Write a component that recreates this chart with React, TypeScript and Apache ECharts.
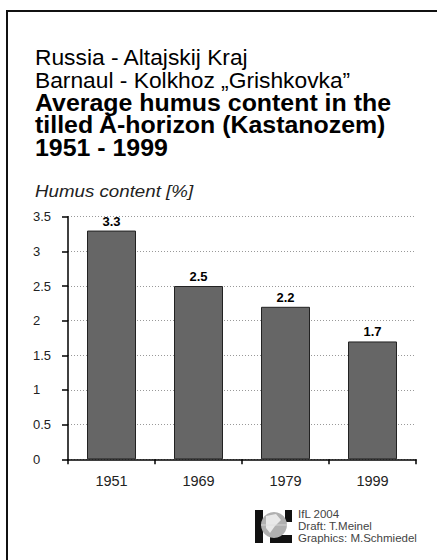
import React, { useEffect, useRef } from "react";
import * as echarts from "echarts";

const categories = ["1951", "1969", "1979", "1999"];
const humusValues = [3.3, 2.5, 2.2, 1.7];
const yTicks = { min: 0, max: 3.5, interval: 0.5 };
const titleLines = ["Russia - Altajskij Kraj", "Barnaul - Kolkhoz \u201EGrishkovka\u201D"];
const boldLines = ["Average humus content in the", "tilled A-horizon (Kastanozem)", "1951 - 1999"];
const yAxisTitle = "Humus content [%]";
const creditLines = ["IfL 2004", "Draft: T.Meinel", "Graphics: M.Schmiedel"];

const FONT = "'Liberation Sans', Arial, Helvetica, sans-serif";

export default function App() {
  const ref = useRef<HTMLDivElement>(null);
  useEffect(() => {
    if (!ref.current) return;
    const chart = echarts.init(ref.current, null, { renderer: "svg" });
    const titleText = [
      ...titleLines.map((t) => `{r|${t}}`),
      ...boldLines.map((t) => `{b|${t}}`),
    ].join("\n");
    const graphics: any[] = [
      {
        type: "rect",
        shape: { x: 7, y: 11, width: 450, height: 570 },
        style: { fill: "none", stroke: "#111", lineWidth: 2 },
        silent: true,
      },
      {
        type: "text",
        x: 35,
        y: 46.5,
        scaleX: 1.06,
        style: {
          text: titleText,
          fontFamily: FONT,
          fill: "#000",
          verticalAlign: "top",
          rich: {
            r: { fontSize: 21.5, lineHeight: 22.5, fontFamily: FONT, fill: "#000" },
            b: { fontSize: 23.5, lineHeight: 22.5, fontWeight: "bold", fontFamily: FONT, fill: "#000" },
          },
        },
      },
      {
        type: "text",
        x: 35,
        y: 191,
        scaleX: 1.17,
        style: { text: yAxisTitle, fontSize: 16, fontStyle: "italic", fontFamily: FONT, fill: "#222", verticalAlign: "middle" },
      },
      // logo
      { type: "rect", shape: { x: 255, y: 510, width: 8, height: 33 }, style: { fill: "#111" } },
      { type: "rect", shape: { x: 285, y: 510, width: 7, height: 12 }, style: { fill: "#111" } },
      { type: "rect", shape: { x: 270, y: 535, width: 22, height: 8 }, style: { fill: "#111" } },
      { type: "circle", shape: { cx: 274, cy: 525, r: 13 }, style: { fill: "#b0b0b0" } },
      { type: "polygon", shape: { points: [[266, 516], [276, 514], [281, 520], [275, 526], [270, 533], [266, 528]] }, style: { fill: "#e8e8e8" } },
      { type: "line", shape: { x1: 261, y1: 525, x2: 287, y2: 525 }, style: { stroke: "#ddd", lineWidth: 0.8 } },
      {
        type: "text",
        x: 298,
        y: 508,
        style: {
          text: creditLines.join("\n"),
          fontSize: 11.5,
          lineHeight: 12,
          fontFamily: FONT,
          fill: "#444",
          verticalAlign: "top",
        },
      },
    ];
    chart.setOption({
      animation: false,
      backgroundColor: "#fff",
      textStyle: { fontFamily: FONT },
      grid: { left: 68, right: 21, top: 216.7, bottom: 100.7, containLabel: false },
      xAxis: {
        type: "category",
        data: categories,
        boundaryGap: true,
        axisLine: { show: true, lineStyle: { color: "#000", width: 1.5 } },
        axisTick: { show: true, length: 5, lineStyle: { color: "#000", width: 1.5 } },
        axisLabel: { fontSize: 14.5, color: "#222", margin: 14, fontFamily: FONT },
        splitLine: { show: false },
      },
      yAxis: {
        type: "value",
        min: yTicks.min,
        max: yTicks.max,
        interval: yTicks.interval,
        axisLine: { show: true, lineStyle: { color: "#000", width: 1.5 } },
        axisTick: { show: true, length: 6, lineStyle: { color: "#000", width: 1.5 } },
        axisLabel: { fontSize: 13, color: "#222", margin: 35, align: "left", fontFamily: FONT, formatter: (v: number) => String(v) },
        splitLine: { show: true, lineStyle: { color: "#999", type: [1, 2], width: 1 } },
      },
      series: [
        {
          type: "bar",
          data: humusValues,
          barWidth: 49,
          itemStyle: { color: "#666", borderColor: "#222", borderWidth: 1 },
          label: { show: true, position: "top", distance: 3, fontSize: 13, fontWeight: "bold", color: "#000", fontFamily: FONT },
        },
      ],
      graphic: graphics,
    });
    return () => chart.dispose();
  }, []);
  return (
    <div style={{ position: "fixed", left: 0, top: 0, width: 437, height: 560, background: "#fff" }}>
      <div ref={ref} style={{ width: 437, height: 560 }} />
    </div>
  );
}
